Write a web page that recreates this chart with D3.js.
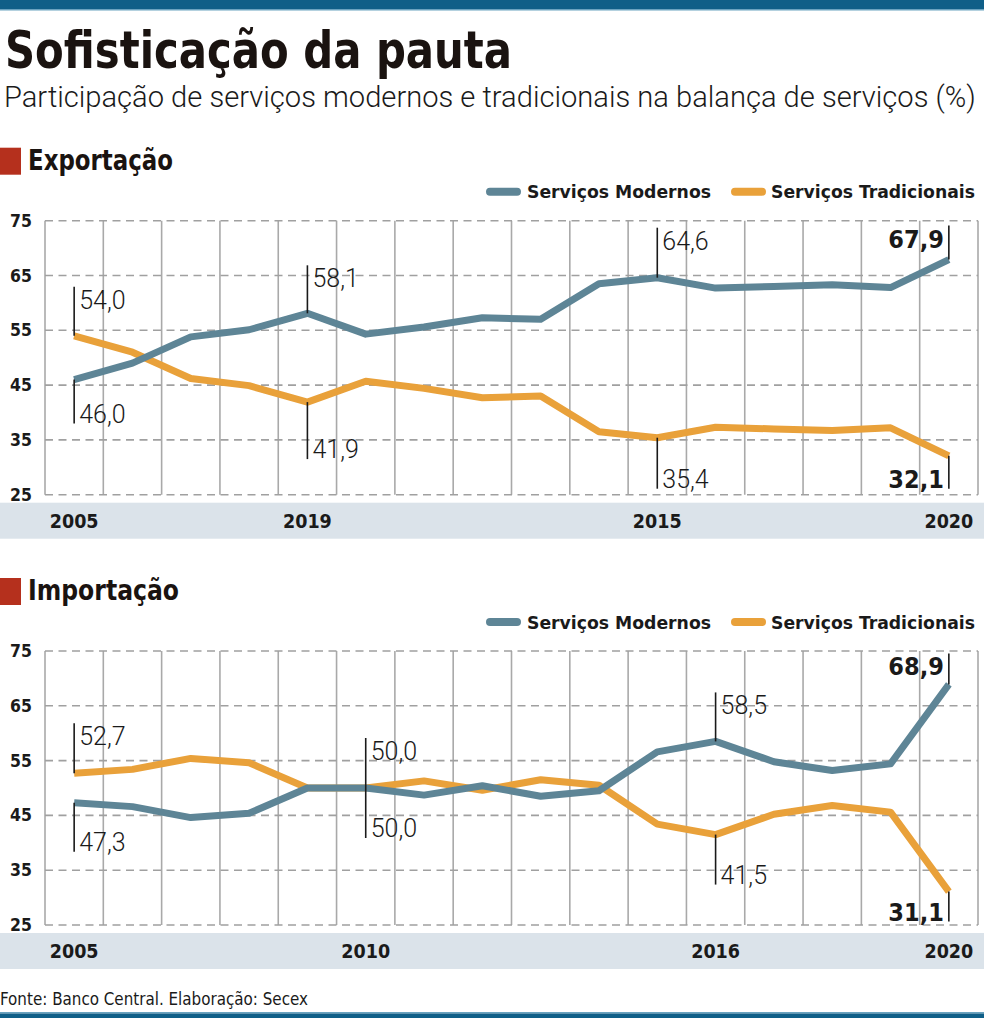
<!DOCTYPE html>
<html lang="pt">
<head>
    <meta charset="UTF-8">
    <title>Sofisticação da pauta</title>
    <script src="https://cdnjs.cloudflare.com/ajax/libs/d3/7.8.5/d3.min.js"></script>
    <style>
        body{ margin:0; background:#fff; }
        svg{ display:block; }
        text{ font-family:"DejaVu Sans Condensed","Roboto",sans-serif; font-stretch:condensed; }
        .light{ font-family:"Roboto","DejaVu Sans",sans-serif; font-weight:300; font-stretch:normal; }
    </style>
</head>
<body>
<script type="text/javascript">

    // dados
    var anos = d3.range(2005, 2021);

    var expModernos     = [46.0, 49.0, 53.8, 55.1, 58.1, 54.3, 55.6, 57.3, 57.0, 63.5, 64.6, 62.7, 63.0, 63.3, 62.8, 67.9];
    var expTradicionais = [54.0, 51.0, 46.2, 44.9, 41.9, 45.7, 44.4, 42.7, 43.0, 36.5, 35.4, 37.3, 37.0, 36.7, 37.2, 32.1];

    var impModernos     = [47.3, 46.6, 44.6, 45.4, 50.0, 50.0, 48.7, 50.4, 48.5, 49.5, 56.6, 58.5, 54.8, 53.2, 54.4, 68.9];
    var impTradicionais = [52.7, 53.4, 55.4, 54.6, 50.0, 50.0, 51.3, 49.6, 51.5, 50.5, 43.4, 41.5, 45.2, 46.8, 45.6, 31.1];

    // rotulos do eixo x (como no original)
    var expRotulosX = [[0, "2005"], [4, "2019"], [10, "2015"], [15, "2020"]];
    var impRotulosX = [[0, "2005"], [5, "2010"], [11, "2016"], [15, "2020"]];

    var ticksY = [25, 35, 45, 55, 65, 75];

    // anotacoes: [serie, indice, direcao, comprimento, negrito]
    var expNotas = [
        ["t", 0, "up", 49, false], ["m", 0, "down", 44, false],
        ["m", 4, "up", 48, false], ["t", 4, "down", 57, false],
        ["m", 10, "up", 50, false], ["t", 10, "down", 51, false],
        ["m", 15, "up", 34, true], ["t", 15, "down", 33, true]
    ];
    var impNotas = [
        ["t", 0, "up", 50, false], ["m", 0, "down", 49, false],
        ["t", 5, "up", 50, false], ["m", 5, "down", 50, false],
        ["m", 11, "up", 49, false], ["t", 11, "down", 50, false],
        ["m", 15, "up", 31, true], ["t", 15, "down", 30, true]
    ];

    var corModerno = "#5e8596";
    var corTradicional = "#e9a13a";
    var W = 984, H = 1018;

    var svg = d3.select("body").append("svg")
        .attr("width", W)
        .attr("height", H);

    // barras azuis de topo e rodape
    svg.append("rect").attr("x", 0).attr("y", 0).attr("width", W).attr("height", 9).attr("fill", "#0f5f88");
    svg.append("rect").attr("x", 0).attr("y", 9).attr("width", W).attr("height", 1.5).attr("fill", "#6aa3c0");
    svg.append("rect").attr("x", 0).attr("y", 1012).attr("width", W).attr("height", 1.5).attr("fill", "#6aa3c0");
    svg.append("rect").attr("x", 0).attr("y", 1013.5).attr("width", W).attr("height", 5).attr("fill", "#0f5f88");

    // titulo
    svg.append("text")
        .attr("x", 5).attr("y", 68)
        .attr("font-size", 52).attr("font-weight", 900)
        .attr("textLength", 507).attr("lengthAdjust", "spacingAndGlyphs")
        .attr("fill", "#1a1310")
        .text("Sofisticação da pauta");

    // subtitulo: tamanho ajustado para caber na largura
    var sub = svg.append("text")
        .attr("class", "light")
        .attr("x", 4).attr("y", 107)
        .attr("font-size", 30)
        .attr("fill", "#1a1a1a")
        .text("Participação de serviços modernos e tradicionais na balança de serviços (%)");
    var larg = sub.node().getComputedTextLength();
    if (larg > 972) sub.attr("font-size", 30 * 972 / larg);

    svg.append("text")
        .attr("x", 0).attr("y", 1005)
        .attr("font-size", 17.5)
        .attr("textLength", 308).attr("lengthAdjust", "spacingAndGlyphs")
        .attr("fill", "#1a1a1a")
        .text("Fonte: Banco Central. Elaboração: Secex");

    function desenhaPainel(cfg) {
        var g = svg.append("g");

        var x = d3.scaleBand()
            .domain(d3.range(anos.length))
            .range([45, 978]);

        var cx = function(i) { return x(i) + x.bandwidth() / 2; };

        var y = d3.scaleLinear()
            .domain([25, 75])
            .range([cfg.base, cfg.base - 274]);

        // cabecalho da secao
        g.append("rect")
            .attr("x", 0).attr("y", cfg.base - 347)
            .attr("width", 21).attr("height", 27)
            .attr("fill", "#b5301d");
        g.append("text")
            .attr("x", 28).attr("y", cfg.base - 325)
            .attr("font-size", 28).attr("font-weight", 700)
            .attr("textLength", cfg.larguraTitulo).attr("lengthAdjust", "spacingAndGlyphs")
            .attr("fill", "#1a1310")
            .text(cfg.titulo);

        // legenda
        var leg = [
            {nome: "Serviços Modernos", cor: corModerno, x0: 490, x1: 517, tx: 527, tl: 184},
            {nome: "Serviços Tradicionais", cor: corTradicional, x0: 735, x1: 762, tx: 771, tl: 204}
        ];
        var yl = cfg.base - 303;
        leg.forEach(function(d) {
            g.append("line")
                .attr("x1", d.x0).attr("x2", d.x1)
                .attr("y1", yl).attr("y2", yl)
                .attr("stroke", d.cor).attr("stroke-width", 8)
                .attr("stroke-linecap", "round");
            g.append("text")
                .attr("x", d.tx).attr("y", yl + 6.5)
                .attr("font-size", 18.5).attr("font-weight", 700)
                .attr("textLength", d.tl).attr("lengthAdjust", "spacingAndGlyphs")
                .attr("fill", "#1a1a1a")
                .text(d.nome);
        });

        // faixa do eixo x
        g.append("rect")
            .attr("x", 0).attr("y", cfg.base + 8)
            .attr("width", W).attr("height", 36)
            .attr("fill", "#dbe3ea");

        // grade vertical
        g.selectAll(".vgrid")
            .data(d3.range(anos.length + 1))
            .enter().append("line")
            .attr("x1", function(i) { return i < anos.length ? x(i) : x(i - 1) + x.bandwidth(); })
            .attr("x2", function(i) { return i < anos.length ? x(i) : x(i - 1) + x.bandwidth(); })
            .attr("y1", y(75)).attr("y2", y(25))
            .attr("stroke", "#a9a9a9").attr("stroke-width", 1.6);

        // grade horizontal
        g.selectAll(".hgrid")
            .data(ticksY)
            .enter().append("line")
            .attr("x1", 45).attr("x2", 978)
            .attr("y1", function(d) { return y(d); })
            .attr("y2", function(d) { return y(d); })
            .attr("stroke", "#a0a0a0").attr("stroke-width", 1.6)
            .attr("stroke-dasharray", "8,5.5");

        // rotulos y
        g.selectAll(".ty")
            .data(ticksY)
            .enter().append("text")
            .attr("x", 10)
            .attr("y", function(d) { return y(d) + 6; })
            .attr("font-size", 17.5).attr("font-weight", 700)
            .attr("fill", "#1a1a1a")
            .text(function(d) { return d; });

        // rotulos x
        g.selectAll(".tx")
            .data(cfg.rotulosX)
            .enter().append("text")
            .attr("x", function(d) { return cx(d[0]); })
            .attr("y", cfg.base + 33)
            .attr("text-anchor", "middle")
            .attr("font-size", 19.5).attr("font-weight", 700)
            .attr("fill", "#1a1a1a")
            .text(function(d) { return d[1]; });

        // linhas
        var linha = d3.line()
            .x(function(d, i) { return cx(i); })
            .y(function(d) { return y(d); });

        [[cfg.tradicionais, corTradicional], [cfg.modernos, corModerno]].forEach(function(s) {
            g.append("path")
                .datum(s[0])
                .attr("d", linha)
                .attr("fill", "none")
                .attr("stroke", s[1])
                .attr("stroke-width", 7)
                .attr("stroke-linejoin", "round");
        });

        // anotacoes
        cfg.notas.forEach(function(n) {
            var serie = n[0] === "m" ? cfg.modernos : cfg.tradicionais;
            var v = serie[n[1]];
            var px = cx(n[1]);
            var py = y(v);
            var fim = n[2] === "up" ? py - n[3] : py + n[3];
            g.append("line")
                .attr("x1", px).attr("x2", px)
                .attr("y1", py).attr("y2", fim)
                .attr("stroke", "#1a1a1a").attr("stroke-width", 1.6);
            var t = g.append("text")
                .attr("y", n[2] === "up" ? fim + 22 : fim - 1)
                .attr("font-size", 25)
                .attr("fill", "#1a1a1a")
                .text(d3.format(".1f")(v).replace(".", ","));
            if (n[4]) {
                t.attr("x", px - 5).attr("text-anchor", "end").attr("font-weight", 700).attr("font-size", 25);
            } else {
                t.attr("x", px + 5).attr("class", "light");
            }
        });
    }

    desenhaPainel({
        base: 494.7, titulo: "Exportação", larguraTitulo: 145,
        modernos: expModernos, tradicionais: expTradicionais,
        rotulosX: expRotulosX, notas: expNotas
    });

    desenhaPainel({
        base: 925, titulo: "Importação", larguraTitulo: 151,
        modernos: impModernos, tradicionais: impTradicionais,
        rotulosX: impRotulosX, notas: impNotas
    });

</script>
</body>
</html>
